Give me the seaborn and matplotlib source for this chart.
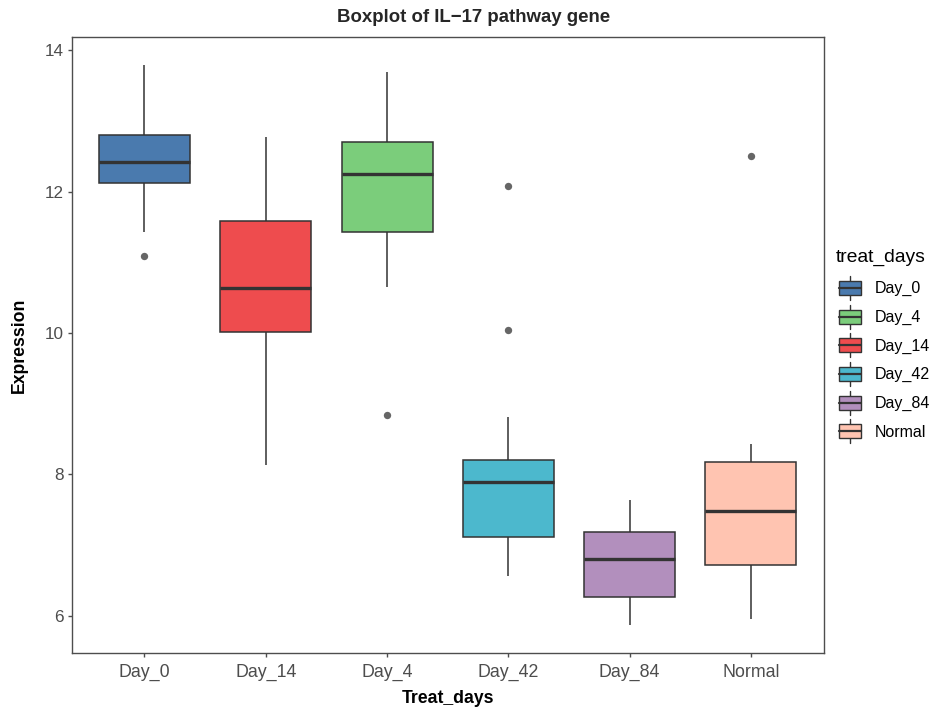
import numpy as np
import pandas as pd
import seaborn as sns
import matplotlib
matplotlib.use("Agg")
import matplotlib.pyplot as plt
from matplotlib.patches import Patch, Rectangle
from matplotlib.lines import Line2D
from matplotlib.legend_handler import HandlerBase

# Categories: axis order and legend order
x_order = ["Day_0", "Day_14", "Day_4", "Day_42", "Day_84", "Normal"]
legend_order = ["Day_0", "Day_4", "Day_14", "Day_42", "Day_84", "Normal"]

# Expression values per treatment group
day_0 = [11.09, 11.43, 12.12, 12.30, 12.42, 12.60, 12.80, 13.30, 13.79]
day_14 = [8.13, 9.40, 10.02, 10.30, 10.64, 11.20, 11.59, 12.20, 12.78]
day_4 = [8.84, 10.65, 11.43, 11.90, 12.25, 12.50, 12.71, 13.20, 13.69]
day_42 = [6.57, 6.85, 7.00, 7.11, 7.40, 7.70, 7.89, 8.00, 8.10, 8.20, 8.81, 10.04, 12.08]
day_84 = [5.87, 6.05, 6.27, 6.55, 6.80, 7.00, 7.19, 7.40, 7.64]
normal = [5.95, 6.40, 6.72, 7.10, 7.48, 7.90, 8.18, 8.43, 12.51]

groups = {"Day_0": day_0, "Day_14": day_14, "Day_4": day_4,
          "Day_42": day_42, "Day_84": day_84, "Normal": normal}

palette = {"Day_0": "#4A7AAE", "Day_4": "#7BCD7B", "Day_14": "#EE4C4E",
           "Day_42": "#4CB8CD", "Day_84": "#B28FBD", "Normal": "#FFC4B1"}

df = pd.DataFrame({
    "treat_days": [k for k, v in groups.items() for _ in v],
    "Expression": [x for v in groups.values() for x in v],
})

sns.set_theme(style="white")
plt.rcParams["font.family"] = ["Liberation Sans", "DejaVu Sans"]

W, H = 933, 709
fig = plt.figure(figsize=(W / 100, H / 100), dpi=100)
left, right, top, bottom = 71.7, 823.7, 37.3, 653.0
ax = fig.add_axes([left / W, 1 - bottom / H, (right - left) / W, (bottom - top) / H])

line_col = "#333333"
sns.boxplot(
    data=df, x="treat_days", y="Expression", hue="treat_days",
    order=x_order, hue_order=legend_order, palette=palette,
    saturation=1, width=0.75, showcaps=False, linewidth=1.1,
    linecolor=line_col, legend=False, ax=ax,
    flierprops=dict(marker="o", markerfacecolor="#666666",
                    markeredgecolor="none", markersize=5.3),
    medianprops=dict(color=line_col, linewidth=2.4),
    whiskerprops=dict(color=line_col, linewidth=1.1),
    boxprops=dict(edgecolor=line_col, linewidth=1.1),
)

# ggplot-style expansion of the y range
vals = df["Expression"].to_numpy()
pad = 0.05 * (vals.max() - vals.min())
ax.set_ylim(vals.min() - pad, vals.max() + pad)
ax.set_xlim(-0.6, len(x_order) - 0.4)
ax.set_yticks([6, 8, 10, 12, 14])

for s in ax.spines.values():
    s.set_visible(True)
    s.set_color("#4d4d4d")
    s.set_linewidth(1.0)
ax.tick_params(axis="both", which="both", direction="out", length=3.2,
               width=1.0, color="#4d4d4d", labelcolor="#4d4d4d",
               bottom=True, left=True)
ax.tick_params(axis="x", labelsize=12.8, pad=4.6)
ax.tick_params(axis="y", labelsize=12.3, pad=2.5)
ax.grid(False)

ax.set_xlabel("Treat_days", fontsize=12.7, fontweight="bold", color="black", labelpad=6.3)
ax.set_ylabel("Expression", fontsize=12.7, fontweight="bold", color="black", labelpad=12.3)

fig.text(473.5 / W, 1 - 18 / H, "Boxplot of IL\u221217 pathway gene",
         ha="center", va="center", fontsize=13.4, fontweight="bold")


class BoxKeyHandler(HandlerBase):
    """Draws a miniature boxplot as a legend key."""

    def create_artists(self, legend, orig_handle, xdescent, ydescent,
                       width, height, fontsize, trans):
        x0, y0 = -xdescent + 2.0, -ydescent
        cx, cy = x0 + width / 2, y0 + height / 2
        bh = height * 14 / 24
        stem = Line2D([cx, cx], [y0, y0 + height], color=line_col, lw=1.0)
        box = Rectangle((x0, cy - bh / 2), width, bh,
                        facecolor=orig_handle.get_facecolor(),
                        edgecolor=line_col, lw=1.0)
        med = Line2D([x0, x0 + width], [cy, cy], color=line_col, lw=1.6)
        arts = [stem, box, med]
        for a in arts:
            a.set_transform(trans)
        return arts


# Legend title drawn on its own, keys below it
fig.text(836 / W, 1 - 257 / H, "treat_days", ha="left", va="center",
         fontsize=13.9, color="black")

handles = [Patch(facecolor=palette[k]) for k in legend_order]
leg = fig.legend(
    handles, legend_order, handler_map={Patch: BoxKeyHandler()},
    loc="upper left", bbox_to_anchor=(836 / W, 1 - 276 / H),
    frameon=False, fontsize=11.5,
    handlelength=1.38, handleheight=1.935, labelspacing=0.294,
    handletextpad=1.06, borderpad=0, borderaxespad=0,
)
for t in leg.get_texts():
    t.set_color("black")

fig.savefig("out.png", dpi=100, facecolor="white")
